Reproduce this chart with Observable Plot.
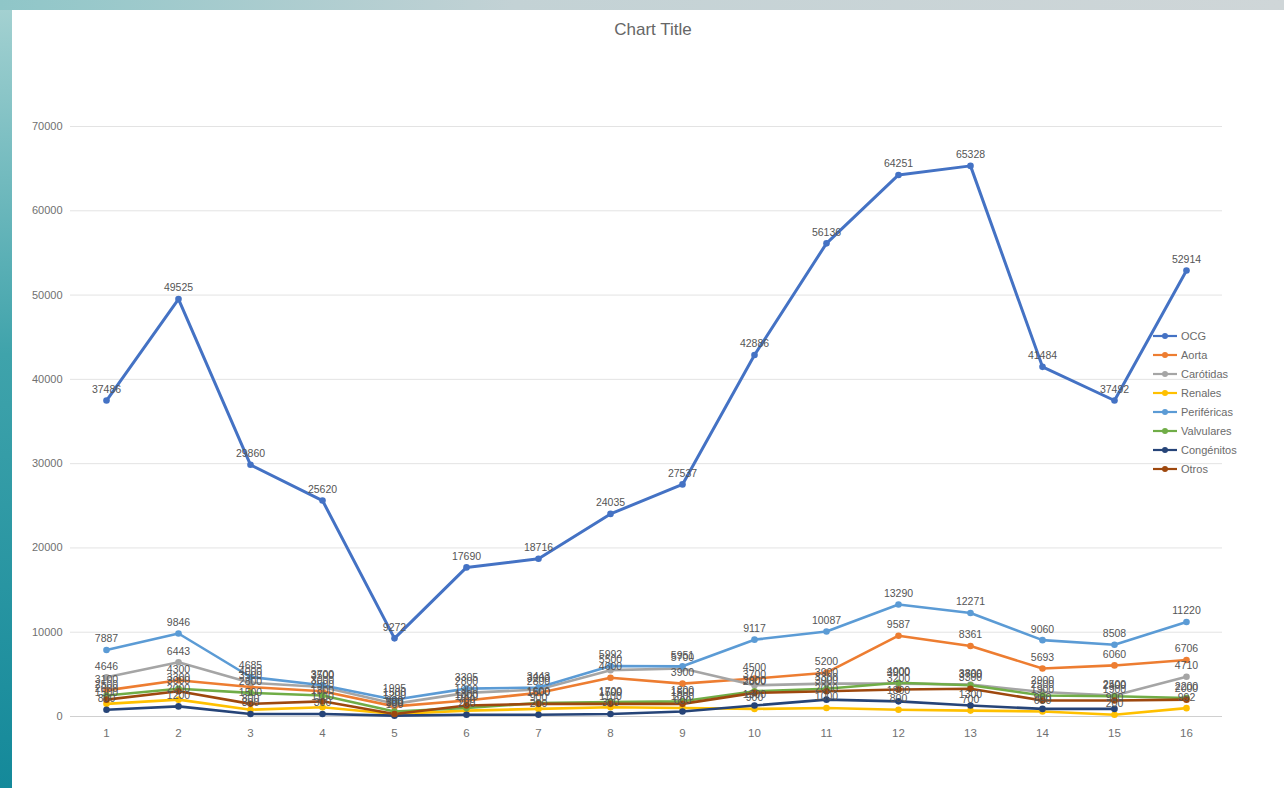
<!DOCTYPE html>
<html><head><meta charset="utf-8">
<script src="https://cdn.jsdelivr.net/npm/d3@7"></script>
<script src="https://cdn.jsdelivr.net/npm/@observablehq/plot@0.6"></script>
<style>
body{margin:0;width:1284px;height:788px;overflow:hidden;font-family:"Liberation Sans",Arial,sans-serif;}
#frame{position:absolute;left:0;top:0;width:1284px;height:788px;background:linear-gradient(180deg,#a6d2d2 0%,#3fa3ab 45%,#14899a 100%);}
#topbar{position:absolute;left:0;top:0;width:1284px;height:10px;background:linear-gradient(90deg,#8fc6c8 0%,#c3d2d5 40%,#cfd6d8 100%);}
#panel{position:absolute;left:12px;top:10px;width:1272px;height:778px;background:#fff;}
#title{position:absolute;left:0;top:10px;width:1282px;text-align:center;font-size:17px;color:#666;}
#chart{position:absolute;left:0;top:90px;}
#legend{position:absolute;left:1140px;top:316px;font-size:11px;color:#6b6b6b;}
.row{height:19px;display:flex;align-items:center;}
.row svg{margin-right:3px;}
</style>
</head><body>
<div id="frame"></div>
<div id="topbar"></div>
<div id="panel">
  <div id="title">Chart Title</div>
  <div id="chart"></div>
  <div id="legend"></div>
</div>
<script>
const categories = ["1","2","3","4","5","6","7","8","9","10","11","12","13","14","15","16"];
const seriesNames = ["OCG","Aorta","Carótidas","Renales","Periféricas","Valvulares","Congénitos","Otros"];
const seriesColors = ["#4472C4","#ED7D31","#A5A5A5","#FFC000","#5B9BD5","#70AD47","#264478","#9E480E"];
const yTicks = [0,10000,20000,30000,40000,50000,60000,70000];

const OCG        = [37486,49525,29860,25620,9272,17690,18716,24035,27537,42886,56136,64251,65328,41484,37492,52914];
const Aorta      = [3100,4300,3500,3000,1200,1900,2800,4600,3900,4500,5200,9587,8361,5693,6060,6706];
const Carotidas  = [4646,6443,4000,3500,1500,2800,3200,5500,5700,3700,3900,3900,3800,2900,2500,4710];
const Renales    = [1500,2000,800,1100,300,700,900,1100,1000,900,1000,800,700,600,200,992];
const Perifericas= [7887,9846,4685,3700,1995,3305,3443,5992,5951,9117,10087,13290,12271,9060,8508,11220];
const Valvulares = [2500,3300,2800,2500,600,1000,1600,1700,1800,3000,3300,4000,3700,2500,2400,2200];
const Congenitos = [800,1200,300,300,100,200,200,300,600,1300,2000,1800,1300,900,900,null];
const Otros      = [2000,3000,1500,1800,300,1300,1500,1500,1500,2800,3000,3200,3300,1900,1900,2000];

const seriesValues = [OCG,Aorta,Carotidas,Renales,Perifericas,Valvulares,Congenitos,Otros];
const data = [];
seriesNames.forEach((s,i)=>{
  categories.forEach((c,j)=>{
    data.push({series:s, cat:c, v:seriesValues[i][j]});
  });
});
const defined = data.filter(d=>d.v!=null);

const chart = Plot.plot({
  width:1272, height:680,
  marginLeft:58, marginRight:62, marginTop:26, marginBottom:64,
  style:{fontFamily:"Liberation Sans, Arial, sans-serif", background:"transparent"},
  x:{type:"point", domain:categories, padding:0.5, align:0.5},
  y:{domain:[0,70000]},
  color:{domain:seriesNames, range:seriesColors},
  marks:[
    Plot.gridY(yTicks.slice(1), {stroke:"#e3e3e3", strokeOpacity:1}),
    Plot.ruleY([0], {stroke:"#d0d0d0"}),
    Plot.axisY(yTicks, {tickSize:0, tickPadding:8, label:null, fontSize:11, fill:"#707070", tickFormat:d=>String(d)}),
    Plot.axisX({tickSize:0, tickPadding:12, label:null, fontSize:11.5, fill:"#707070"}),
    Plot.line(data, {x:"cat", y:"v", z:"series", stroke:"series", strokeWidth:d=>d.series==="OCG"?3:2.6}),
    Plot.dot(defined, {x:"cat", y:"v", fill:"series", r:3.3}),
    Plot.text(defined, {x:"cat", y:"v", text:d=>String(d.v), dy:-11, fontSize:10.5, fill:"#555"})
  ]
});
document.getElementById("chart").appendChild(chart);

const legend = document.getElementById("legend");
seriesNames.forEach((s,i)=>{
  const row = document.createElement("div");
  row.className = "row";
  row.innerHTML = `<svg width="26" height="10"><line x1="1" y1="5" x2="25" y2="5" stroke="${seriesColors[i]}" stroke-width="2.2"/><circle cx="13" cy="5" r="3" fill="${seriesColors[i]}"/></svg><span>${s}</span>`;
  legend.appendChild(row);
});
</script>
</body></html>
